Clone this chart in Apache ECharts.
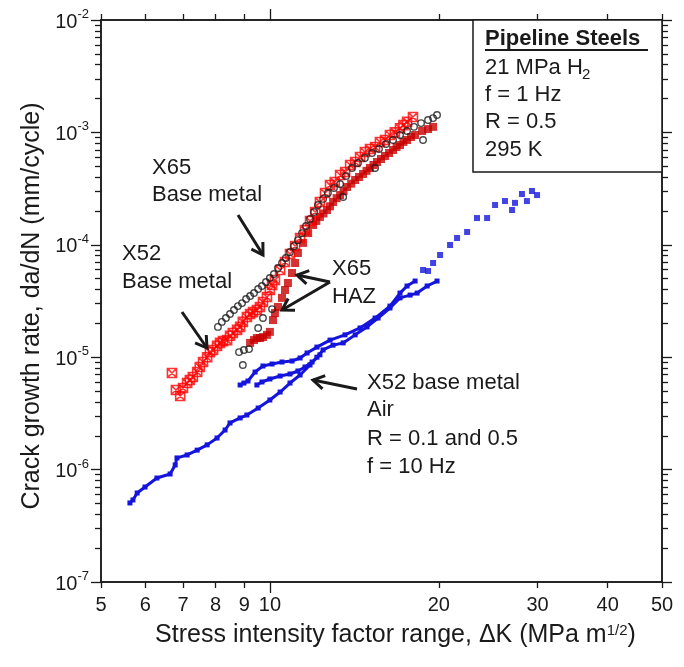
<!DOCTYPE html>
<html>
<head>
<meta charset="utf-8">
<script src="https://cdn.jsdelivr.net/npm/echarts@6/dist/echarts.min.js"></script>
<style>
html,body{margin:0;padding:0;background:#fff;}
#main{width:684px;height:667px;}
</style>
</head>
<body>
<div id="main"></div>
<script>
/* ΔK (MPa m^1/2), da/dN (mm/cycle) */
var x52H2 = [[6.69,7.23e-6],[6.80,5.11e-6],[6.92,4.52e-6],[7.00,5.32e-6],[7.12,5.89e-6],[7.20,6.27e-6],[7.29,6.67e-6],[7.42,7.38e-6],[7.50,8.18e-6],[7.60,9.06e-6],[7.73,1.00e-5],[7.82,1.11e-5],[7.92,1.16e-5],[8.05,1.26e-5],[8.15,1.34e-5],[8.25,1.39e-5],[8.39,1.42e-5],[8.49,1.55e-5],[8.59,1.64e-5],[8.74,1.75e-5],[8.85,1.86e-5],[8.95,2.06e-5],[9.10,2.28e-5],[9.22,2.42e-5],[9.33,2.52e-5],[9.48,2.63e-5],[9.60,2.80e-5],[9.72,3.10e-5],[9.88,3.43e-5],[10.00,3.96e-5],[10.09,4.39e-5],[10.21,4.86e-5],[10.43,5.97e-5],[10.64,7.03e-5],[10.86,8.28e-5],[11.09,9.76e-5],[11.32,1.15e-4],[11.55,1.35e-4],[11.79,1.63e-4],[12.04,1.96e-4],[12.28,2.40e-4],[12.54,2.89e-4],[12.80,3.40e-4],[13.34,4.18e-4],[13.90,5.13e-4],[14.48,6.04e-4],[15.08,7.12e-4],[15.71,8.22e-4],[16.37,9.48e-4],[17.06,1.09e-3],[17.56,1.24e-3],[17.99,1.37e-3],
  [13.05,3.62e-4],[13.62,4.44e-4],[14.19,5.45e-4],[14.77,6.69e-4],[15.40,7.41e-4],[16.04,8.56e-4],[16.70,1.00e-3],[17.30,1.16e-3]];

var x65Base = [[8.08,1.86e-5],[8.21,2.06e-5],[8.35,2.23e-5],[8.49,2.42e-5],[8.63,2.63e-5],[8.77,2.85e-5],[8.92,3.03e-5],[9.07,3.29e-5],[9.22,3.50e-5],[9.37,3.72e-5],[9.53,4.04e-5],[9.68,4.30e-5],[9.84,4.67e-5],[10.00,5.07e-5],[10.17,5.50e-5],[10.34,6.22e-5],[10.51,6.89e-5],[10.68,7.63e-5],[10.86,8.63e-5],[11.04,9.76e-5],[11.22,1.10e-4],[11.41,1.27e-4],[11.60,1.47e-4],[11.79,1.70e-4],[11.99,1.96e-4],[12.18,2.26e-4],[12.44,2.56e-4],[12.69,2.89e-4],[13.01,3.20e-4],[13.34,3.47e-4],[13.67,4.09e-4],[14.01,4.82e-4],[14.36,5.34e-4],[14.77,5.92e-4],[15.21,6.56e-4],[15.65,7.12e-4],[16.11,7.88e-4],[16.58,8.56e-4],[17.06,9.48e-4],[17.56,1.03e-3],[18.07,1.12e-3],[18.60,1.21e-3],[19.14,1.29e-3],[19.54,1.34e-3],[19.86,1.43e-3],
  [8.95,8.53e-6],[8.81,1.11e-5],[8.99,1.16e-5],[9.18,1.18e-5],[9.53,1.82e-5],[9.72,2.23e-5],[10.09,2.68e-5],[13.51,2.66e-4],[15.40,4.82e-4],[18.75,8.56e-4]];

var x65Haz = [[9.22,1.34e-5],[9.37,1.42e-5],[9.48,1.48e-5],[9.60,1.48e-5],[9.72,1.51e-5],[9.88,1.58e-5],[10.00,1.68e-5],[10.13,2.14e-5],[10.21,2.47e-5],[10.34,2.80e-5],[10.51,3.37e-5],[10.64,3.96e-5],[10.77,4.57e-5],[10.95,5.61e-5],[11.09,6.89e-5],[11.22,8.45e-5],[11.46,1.04e-4],[11.70,1.27e-4],[11.94,1.50e-4],[12.28,1.77e-4],[12.64,2.04e-4],[12.96,2.40e-4],[13.34,2.77e-4],[13.73,3.27e-4],[14.19,3.77e-4],[14.66,4.27e-4],[15.08,4.82e-4],[15.52,5.45e-4],[16.04,6.17e-4],[16.58,6.97e-4],[17.06,7.72e-4],[17.56,8.56e-4],[18.15,9.48e-4],[18.68,1.03e-3],[19.14,1.07e-3],[19.54,1.12e-3],
  [12.10,1.63e-4],[12.46,1.90e-4],[12.80,2.20e-4],[13.15,2.60e-4],[13.53,3.00e-4],[13.96,3.50e-4],[14.42,4.01e-4],[14.87,4.55e-4],[15.30,5.13e-4],[15.78,5.80e-4],[16.31,6.56e-4],[16.82,7.41e-4],[17.30,8.22e-4],[17.85,9.10e-4]];

var airA = [[5.63,5.05e-7],[5.70,5.37e-7],[5.80,6.19e-7],[5.99,7.00e-7],[6.29,8.41e-7],[6.64,9.14e-7],[6.78,1.10e-6],[6.83,1.27e-6],[7.12,1.35e-6],[7.42,1.49e-6],[7.73,1.66e-6],[8.05,1.91e-6],[8.32,2.25e-6],[8.49,2.60e-6],[8.85,2.88e-6],[9.10,3.06e-6],[9.53,3.53e-6],[10.00,4.16e-6],[10.43,4.90e-6],[10.86,5.89e-6],[11.32,6.95e-6],[11.79,8.53e-6],[12.13,1.00e-5],[12.44,1.16e-5],[12.96,1.28e-5],[13.51,1.34e-5],[14.19,1.58e-5],[14.90,1.86e-5],[15.59,2.23e-5],[16.37,2.74e-5],[17.06,3.37e-5],[17.78,3.57e-5],[18.30,3.72e-5],[19.07,4.30e-5],[19.86,4.76e-5]];
var airB = [[8.85,5.66e-6],[8.99,5.89e-6],[9.14,6.14e-6],[9.41,7.38e-6],[9.72,8.35e-6],[10.09,8.70e-6],[10.51,9.06e-6],[10.95,9.25e-6],[11.32,9.84e-6],[11.65,1.09e-5],[12.13,1.23e-5],[12.80,1.42e-5],[13.61,1.58e-5],[14.48,1.82e-5],[15.40,2.23e-5],[16.37,2.85e-5],[17.06,3.72e-5],[17.56,4.30e-5],[18.15,4.76e-5]];
var airC = [[9.48,5.66e-6],[9.68,6.02e-6],[10.00,6.40e-6],[10.43,6.80e-6],[10.86,7.09e-6],[11.22,7.54e-6],[11.55,8.18e-6],[11.89,9.06e-6],[12.28,1.05e-5]];
var airTop = [[18.75,5.97e-5],[19.14,5.85e-5],[19.54,6.89e-5],[20.11,8.11e-5],[20.95,9.96e-5],[21.56,1.15e-4],[22.47,1.30e-4],[23.40,1.73e-4],[24.39,1.73e-4],[25.20,2.26e-4],[26.25,2.45e-4],[27.02,2.04e-4],[27.35,2.36e-4],[28.14,2.83e-4],[28.72,2.45e-4],[29.32,3.01e-4],[29.94,2.77e-4]];

var xMajorTicks = [10];
var xMinorTicks = [5, 6, 7, 8, 9, 20, 30, 40, 50];
var yDecades = [1e-7, 1e-6, 1e-5, 1e-4, 1e-3, 1e-2];
var yMinorTicks = [];
for (var i = 0; i < yDecades.length - 1; i++) {
  for (var k = 2; k <= 9; k++) {
    yMinorTicks.push(k * yDecades[i]);
  }
}

var FONT = 'Liberation Sans, Arial, sans-serif';
var INK = '#1a1a1a';
var openSq = 'path://M0,0L10,0L10,10L0,10Z M0,0L10,10 M10,0L0,10';

function xAx(pos, ticks, len, labels) {
  return {
    type: 'log', logBase: 10, min: 5, max: 50, position: pos,
    splitLine: {show: false},
    axisLine: {show: true, onZero: false, lineStyle: {color: INK, width: 1.5}},
    axisTick: {show: true, customValues: ticks, length: len, lineStyle: {color: INK, width: 1.3}},
    axisLabel: {show: labels, customValues: ticks, margin: 13, fontSize: 20, color: INK, fontFamily: FONT,
      showMinLabel: true, showMaxLabel: true}
  };
}
function yAx(pos, ticks, len, labels) {
  return {
    type: 'log', logBase: 10, min: 1e-7, max: 1e-2, position: pos,
    splitLine: {show: false},
    axisLine: {show: true, onZero: false, lineStyle: {color: INK, width: 1.5}},
    axisTick: {show: true, customValues: ticks, length: len, lineStyle: {color: INK, width: 1.3}},
    axisLabel: {show: labels, customValues: ticks, margin: 12, color: INK, fontFamily: FONT,
      showMinLabel: true, showMaxLabel: true,
      formatter: function (v) {
        var e = Math.round(Math.log(v) / Math.LN10);
        return '{b|10}{s|' + e + '}';
      },
      rich: {
        b: {fontSize: 20, lineHeight: 24, verticalAlign: 'bottom', fontFamily: FONT, color: INK},
        s: {fontSize: 13, lineHeight: 14, verticalAlign: 'top', fontFamily: FONT, color: INK}
      }}
  };
}

function arrow(x1, y1, x2, y2) {
  var a = Math.atan2(y2 - y1, x2 - x1), h = 13, s = 0.55;
  return [
    {type: 'line', silent: true, shape: {x1: x1, y1: y1, x2: x2, y2: y2},
      style: {stroke: INK, lineWidth: 3}},
    {type: 'polyline', silent: true,
      shape: {points: [[x2 - h * Math.cos(a - s), y2 - h * Math.sin(a - s)], [x2, y2],
        [x2 - h * Math.cos(a + s), y2 - h * Math.sin(a + s)]]},
      style: {stroke: INK, lineWidth: 3, fill: null}}
  ];
}
function txt(x, y, t, size, weight) {
  return {type: 'text', silent: true, x: x, y: y,
    style: {text: t, fill: INK, font: (weight || 'normal') + ' ' + (size || 22) + 'px ' + FONT,
      verticalAlign: 'top'}};
}

var graphics = [
  {type: 'rect', silent: true, shape: {x: 473, y: 20, width: 189, height: 152},
    style: {fill: '#fff', stroke: INK, lineWidth: 1.5}, z: 10},
  txt(485, 28, 'Pipeline Steels', 22, 'bold'),
  {type: 'line', silent: true, shape: {x1: 485, y1: 50, x2: 648, y2: 50}, style: {stroke: INK, lineWidth: 2}},
  txt(485, 57, '21 MPa H'),
  txt(582, 67, '2', 15),
  txt(485, 84, 'f = 1 Hz'),
  txt(485, 111, 'R = 0.5'),
  txt(485, 139, '295 K'),
  txt(152, 157, 'X65'),
  txt(152, 184, 'Base metal'),
  txt(122, 243, 'X52'),
  txt(122, 271, 'Base metal'),
  txt(332, 258, 'X65'),
  txt(332, 286, 'HAZ'),
  txt(367, 372, 'X52 base metal'),
  txt(367, 399, 'Air'),
  txt(367, 428, 'R = 0.1 and 0.5'),
  txt(367, 456, 'f = 10 Hz')
];
graphics = graphics.concat(arrow(238, 215, 263, 255), arrow(182, 312, 207, 348),
  arrow(330, 282, 297, 275), arrow(330, 282, 282, 310), arrow(357, 389, 313, 380));
graphics.forEach(function (g) { if (g.z == null) g.z = 20; });

var myChart = echarts.init(document.getElementById('main'), null, {renderer: 'canvas'});

var blue = '#1414dc';
function airLine(d) {
  return {type: 'line', data: d, symbol: 'rect', symbolSize: 5, showSymbol: true,
    lineStyle: {color: blue, width: 3}, itemStyle: {color: blue}, z: 3, animation: false};
}

option = {
  animation: false,
  grid: {left: 101, right: 22, top: 20, bottom: 85, containLabel: false},
  xAxis: [
    Object.assign(xAx('bottom', xMajorTicks, 11, true), {
      name: 'Stress intensity factor range, \u0394K (MPa m{s|1/2})',
      nameLocation: 'middle', nameGap: 41,
      nameTextStyle: {fontSize: 25, color: INK, fontFamily: FONT, padding: [0, 0, 0, 28],
        rich: {s: {fontSize: 15, verticalAlign: 'top', lineHeight: 16, fontFamily: FONT, color: INK}}}
    }),
    xAx('bottom', xMinorTicks, 6, true),
    xAx('top', xMajorTicks, 11, false),
    xAx('top', xMinorTicks, 6, false)
  ],
  yAxis: [
    Object.assign(yAx('left', yDecades, 10, true), {
      name: 'Crack growth rate, da/dN (mm/cycle)',
      nameLocation: 'middle', nameGap: 56,
      nameTextStyle: {fontSize: 25, color: INK, fontFamily: FONT, padding: [0, 10, 0, 0]}
    }),
    yAx('left', yMinorTicks, 6, false),
    yAx('right', yDecades, 10, false),
    yAx('right', yMinorTicks, 6, false)
  ],
  series: [
    airLine(airA), airLine(airB), airLine(airC),
    {type: 'scatter', data: airTop, symbol: 'rect', symbolSize: 6, itemStyle: {color: blue}, z: 3},
    {type: 'scatter', data: x65Haz, symbol: 'rect', symbolSize: 8,
      itemStyle: {color: '#c80000'}, z: 4},
    {type: 'scatter', data: x52H2, symbol: openSq, symbolSize: 9,
      itemStyle: {color: 'rgba(0,0,0,0)', borderColor: '#ff0000', borderWidth: 1.6}, z: 5},
    {type: 'scatter', data: x65Base, symbol: 'circle', symbolSize: 6.5,
      itemStyle: {color: 'rgba(0,0,0,0)', borderColor: INK, borderWidth: 1.4}, z: 6}
  ],
  graphic: graphics
};
myChart.setOption(option);
</script>
</body>
</html>
